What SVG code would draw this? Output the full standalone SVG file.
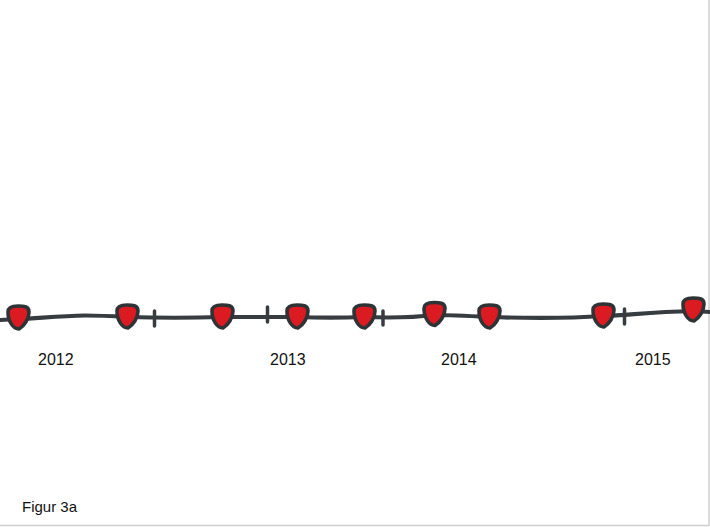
<svg xmlns="http://www.w3.org/2000/svg" width="710" height="527" viewBox="0 0 710 527">
<style>
.lbl{font-family:"Liberation Sans",Arial,sans-serif;font-size:16px;fill:#111}
.cap{font-family:"Liberation Sans",Arial,sans-serif;font-size:15px;fill:#111}
.line{fill:none;stroke:#363c40;stroke-width:4.2;stroke-linecap:round;stroke-linejoin:round}
.tick{fill:none;stroke:#363c40;stroke-width:3.5;stroke-linecap:round}
.frame{fill:none;stroke:#cfcfcf;stroke-width:1.5}
</style>
<defs>
<path id="bead" d="M -10,-6 C -10,-11 -5,-12 0,-12 C 5,-12 11,-12 11,-6 C 11,1 6,8 1,11 C -5,11 -10,3 -10,-6 Z" fill="#dc1a22" stroke="#2e3336" stroke-width="3.6" stroke-linejoin="round"/>
</defs>
<rect width="710" height="527" fill="#ffffff"/>
<path class="frame" d="M709,0 V525.5 H0"/>
<g id="connectors">
<path class="line" d="M0,320 L18,319 C40,318 60,316 85,315.5 C100,315.5 110,316 127,317 C160,318 190,318 222,317 C250,317 275,317 297,317 C320,318 340,318 364,317 C390,318 410,318 434,315 C450,315 470,316 489,317 C520,318 560,319 603,316 C630,315 650,312 693,311 L710,312"/>
<line class="tick" x1="154.5" y1="311" x2="154.5" y2="326"/>
<line class="tick" x1="267.5" y1="307" x2="267.5" y2="322"/>
<line class="tick" x1="383" y1="311" x2="383" y2="325"/>
<line class="tick" x1="624.5" y1="309" x2="624.5" y2="324"/>
</g>
<g id="n1"><use href="#bead" x="18" y="318"/></g>
<g id="n2"><use href="#bead" x="127" y="317"/></g>
<g id="n3"><use href="#bead" x="222" y="317"/></g>
<g id="n4"><use href="#bead" x="297" y="317"/></g>
<g id="n5"><use href="#bead" x="364" y="317"/></g>
<g id="n6"><use href="#bead" x="434" y="314.5"/></g>
<g id="n7"><use href="#bead" x="489" y="317"/></g>
<g id="n8"><use href="#bead" x="603" y="316"/></g>
<g id="n9"><use href="#bead" x="693" y="310"/></g>
<g id="labels">
<text class="lbl" x="38" y="365">2012</text>
<text class="lbl" x="270" y="365">2013</text>
<text class="lbl" x="441" y="365">2014</text>
<text class="lbl" x="635" y="365">2015</text>
<text class="cap" x="22" y="512">Figur 3a</text>
</g>
</svg>
